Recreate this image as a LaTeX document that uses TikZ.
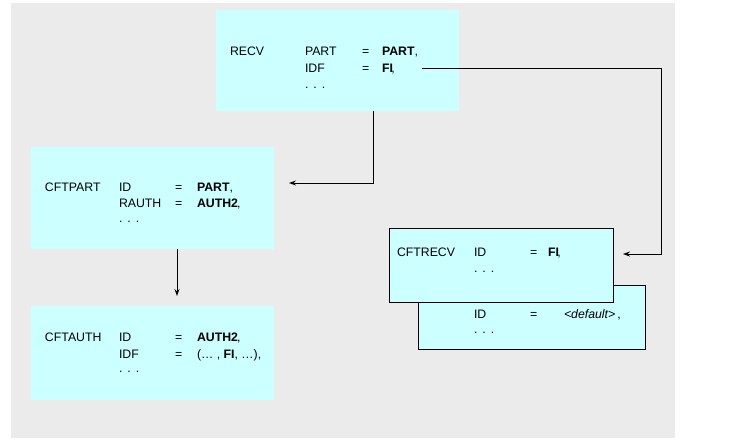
\documentclass[tikz,border=0pt]{standalone}
\usepackage{fontspec}
\setmainfont{Liberation Sans}
\usetikzlibrary{arrows.meta}
\definecolor{bggray}{HTML}{EBEBEB}
\definecolor{boxcyan}{HTML}{CCFFFF}
\tikzset{
  box/.style={fill=boxcyan, draw=none, anchor=north west, inner sep=0pt, outer sep=0pt},
  framedbox/.style={box, draw=black, line width=0.9pt},
  txt/.style={anchor=base west, inner sep=0pt, outer sep=0pt, font=\fontsize{12.3}{14}\selectfont},
  conn/.style={line width=0.9pt, -{Stealth[length=7pt,width=5pt]}},
}
\newcommand{\mydots}{.\hspace{5pt}.\hspace{5pt}.}
\begin{document}
\begin{tikzpicture}[x=1pt,y=-1pt]
\useasboundingbox (0,0) rectangle (729,440);
\fill[bggray] (11,3) rectangle (675,438);
% boxes
\node[box, minimum width=243pt, minimum height=101pt] (recv) at (216,10) {};
\node[box, minimum width=243pt, minimum height=102pt] (part) at (31,147) {};
\node[box, minimum width=243pt, minimum height=94pt] (auth) at (31,306) {};
\node[framedbox, minimum width=227pt, minimum height=64pt] (back) at (418,285) {};
\node[framedbox, minimum width=224pt, minimum height=74pt] (front) at (389,228) {};
% RECV texts
\node[txt] (rA) at (230,55) {RECV};
\node[txt] (rB) at (305,55) {PART};
\node[txt] (rC) at (362,55) {=};
\node[txt] (rD) at (382,55) {\textbf{PART},};
\node[txt] (rE) at (305,72.7) {IDF};
\node[txt] (rF) at (362,72.7) {=};
\node[txt] (fiA) at (382,72.7) {\textbf{FI}\kern-1.5pt,};
\node[txt] (rG) at (305,88.5) {\mydots};
% CFTPART texts
\node[txt] (pA) at (45,191) {CFTPART};
\node[txt] (pB) at (119,191) {ID};
\node[txt] (pC) at (175,191) {=};
\node[txt] (pD) at (197,191) {\textbf{PART},};
\node[txt] (pE) at (119,207) {RAUTH};
\node[txt] (pF) at (175,207) {=};
\node[txt] (pG) at (197,207) {\textbf{AUTH2}\kern-1pt,};
\node[txt] (pH) at (119,222) {\mydots};
% CFTAUTH texts
\node[txt] (aA) at (45,341) {CFTAUTH};
\node[txt] (aB) at (119,341) {ID};
\node[txt] (aC) at (175,341) {=};
\node[txt] (aD) at (197,341) {\textbf{AUTH2}\kern-1pt,};
\node[txt] (aE) at (119,358) {IDF};
\node[txt] (aF) at (175,358) {=};
\node[txt] (aG) at (197,358) {(\dots\ , \textbf{FI}, \dots),};
\node[txt] (aH) at (119,372) {\mydots};
% CFTRECV texts
\node[txt] (cA) at (397,256.7) {CFTRECV};
\node[txt] (cB) at (474,256.7) {ID};
\node[txt] (cC) at (530,256.7) {=};
\node[txt] (cD) at (548,256.7) {\textbf{FI}\kern-1.5pt,};
\node[txt] (cE) at (474,272) {\mydots};
% back texts
\node[txt] (bA) at (474,318) {ID};
\node[txt] (bB) at (530,318) {=};
\node[txt] (bC) at (564,318) {\textit{<default>}\,,};
\node[txt] (bD) at (474,333.5) {\mydots};
% connectors
\coordinate (c1) at (373,183);
\coordinate (t1) at (289,183);
\draw[conn] (recv.south -| c1) -- (c1) -- (t1);
\coordinate (s2) at (422,68);
\coordinate (c2) at (661,254);
\coordinate (t2) at (623,254);
\draw[conn] (s2) -| (c2) -- (t2);
\coordinate (c3) at (177,249);
\coordinate (t3) at (177,296);
\draw[conn] (part.south -| c3) -- (t3);
\end{tikzpicture}
\end{document}
